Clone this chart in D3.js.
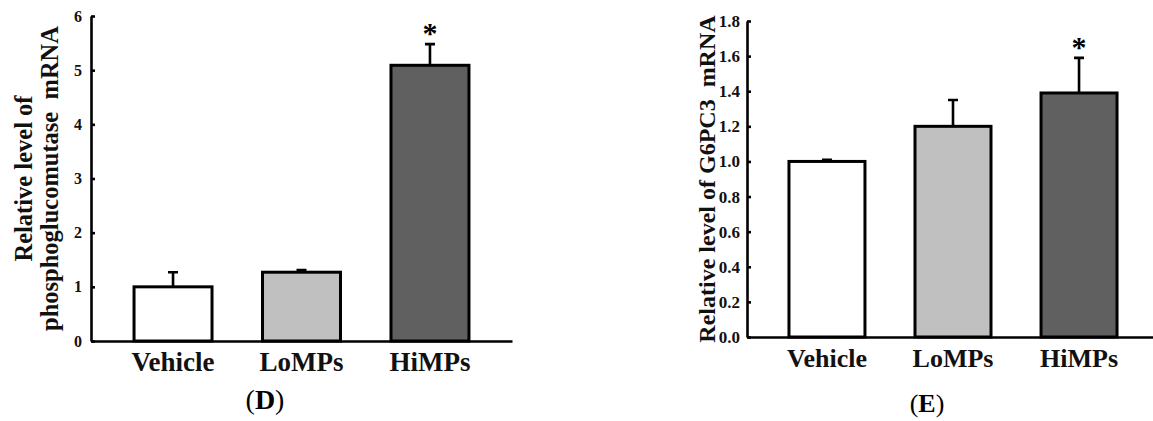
<!DOCTYPE html>
<html>
<head>
<meta charset="utf-8">
<script src="https://cdn.jsdelivr.net/npm/d3@7"></script>
<style>
  body { margin: 0; background: #fff; }
  svg { display: block; }
  text { font-family: "Liberation Serif", "Times New Roman", serif; }
</style>
</head>
<body>
<svg width="1153" height="421"></svg>
<script>
// groups on the x axis
const categories = ["Vehicle", "LoMPs", "HiMPs"];
// panel D: phosphoglucomutase mRNA
const pgmMeans = [1.0, 1.27, 5.09];
const pgmErrors = [0.27, 0.04, 0.39];
const pgmTicks = [0, 1, 2, 3, 4, 5, 6];
// panel E: G6PC3 mRNA
const g6pMeans = [1.0, 1.2, 1.39];
const g6pErrors = [0.01, 0.15, 0.2];
const g6pTicks = [0, 0.2, 0.4, 0.6, 0.8, 1.0, 1.2, 1.4, 1.6, 1.8];
// significance markers
const significant = [false, false, true];

const fills = ["#ffffff", "#c0c0c0", "#606060"];

const svg = d3.select("svg");

function drawPanel(p) {
  const g = svg.append("g");

  const y = d3.scaleLinear().domain([0, p.ticks[p.ticks.length - 1]]).range([p.y0, p.y1]);
  const x = d3.scaleBand()
    .domain(categories)
    .range([p.x0, p.x1])
    .paddingInner(p.padIn)
    .paddingOuter(p.padOut);
  const cx = (c) => x(c) + x.bandwidth() / 2;

  //bars
  g.selectAll(".bar")
    .data(categories)
    .enter()
    .append("rect")
    .attr("x", (c) => x(c))
    .attr("y", (c, i) => y(p.means[i]))
    .attr("width", x.bandwidth())
    .attr("height", (c, i) => y(0) - y(p.means[i]))
    .attr("fill", (c, i) => fills[i])
    .attr("stroke", "#000")
    .attr("stroke-width", 3);

  //error bars, upper half only
  g.selectAll(".err")
    .data(categories)
    .enter()
    .append("path")
    .attr("d", (c, i) => {
      const top = y(p.means[i] + p.errors[i]);
      return `M${cx(c)},${y(p.means[i])}V${top}M${cx(c) - 5},${top}H${cx(c) + 5}`;
    })
    .attr("fill", "none")
    .attr("stroke", "#000")
    .attr("stroke-width", 2.6);

  //stars over significant groups
  g.selectAll(".star")
    .data(categories.filter((c, i) => significant[i]))
    .enter()
    .append("text")
    .attr("x", (c) => cx(c))
    .attr("y", (c) => {
      const i = categories.indexOf(c);
      return y(p.means[i] + p.errors[i]) - p.starGap;
    })
    .attr("text-anchor", "middle")
    .attr("font-size", 30)
    .attr("font-weight", "bold")
    .text("*");

  //y axis with inward ticks
  const yAxis = d3.axisLeft(y)
    .tickValues(p.ticks)
    .tickFormat(p.fmt)
    .tickSizeInner(-4)
    .tickSizeOuter(0)
    .tickPadding(p.tickPad);
  const ya = g.append("g").attr("transform", `translate(${p.x0},0)`).call(yAxis);
  ya.select(".domain").attr("stroke-width", 2.6);
  ya.selectAll(".tick line").attr("stroke-width", 2.6);
  ya.selectAll(".tick text")
    .attr("font-size", p.tickFont)
    .attr("font-weight", "bold")
    .attr("fill", "#111");

  //x axis, only the line and labels
  const xAxis = d3.axisBottom(x).tickSize(0).tickSizeOuter(0).tickPadding(0);
  const xa = g.append("g").attr("transform", `translate(0,${p.y0})`).call(xAxis);
  xa.select(".domain").attr("stroke-width", 2.6);
  xa.selectAll(".tick text")
    .attr("dy", null)
    .attr("y", p.labelBase - p.y0)
    .attr("font-size", p.labelFont)
    .attr("font-weight", "bold")
    .attr("fill", "#111");

  //y axis title
  const title = g.append("text")
    .attr("transform", `translate(0,${(p.y0 + p.y1) / 2}) rotate(-90)`)
    .attr("text-anchor", "middle")
    .attr("font-size", p.titleFont)
    .attr("font-weight", "bold")
    .attr("fill", "#111")
    .style("white-space", "pre");
  p.title.forEach((line, i) => {
    title.append("tspan").attr("x", 0).attr("y", p.titleX[i]).text(line);
  });

  //panel letter
  const letter = g.append("text")
    .attr("x", p.letterX)
    .attr("y", p.letterBase)
    .attr("text-anchor", "middle")
    .attr("font-size", p.letterFont)
    .attr("fill", "#000");
  letter.append("tspan").text("(");
  letter.append("tspan").attr("font-weight", "bold").text(p.letter);
  letter.append("tspan").text(")");
}

drawPanel({
  means: pgmMeans, errors: pgmErrors, ticks: pgmTicks, fmt: d3.format("d"),
  x0: 91, x1: 512, y0: 341, y1: 16, padIn: 0.393, padOut: 0.335,
  tickPad: 9, tickFont: 16, labelFont: 27, labelBase: 371, starGap: 1,
  title: ["Relative level of", "phosphoglucomutase  mRNA"], titleX: [32, 58], titleFont: 24.5,
  letter: "D", letterX: 265, letterBase: 409, letterFont: 28
});

drawPanel({
  means: g6pMeans, errors: g6pErrors, ticks: g6pTicks, fmt: d3.format(".1f"),
  x0: 747, x1: 1159, y0: 337, y1: 21, padIn: 0.397, padOut: 0.333,
  tickPad: 7, tickFont: 17, labelFont: 26, labelBase: 367, starGap: 1,
  title: ["Relative level of G6PC3  mRNA"], titleX: [715], titleFont: 24,
  letter: "E", letterX: 927, letterBase: 412, letterFont: 26
});
</script>
</body>
</html>
